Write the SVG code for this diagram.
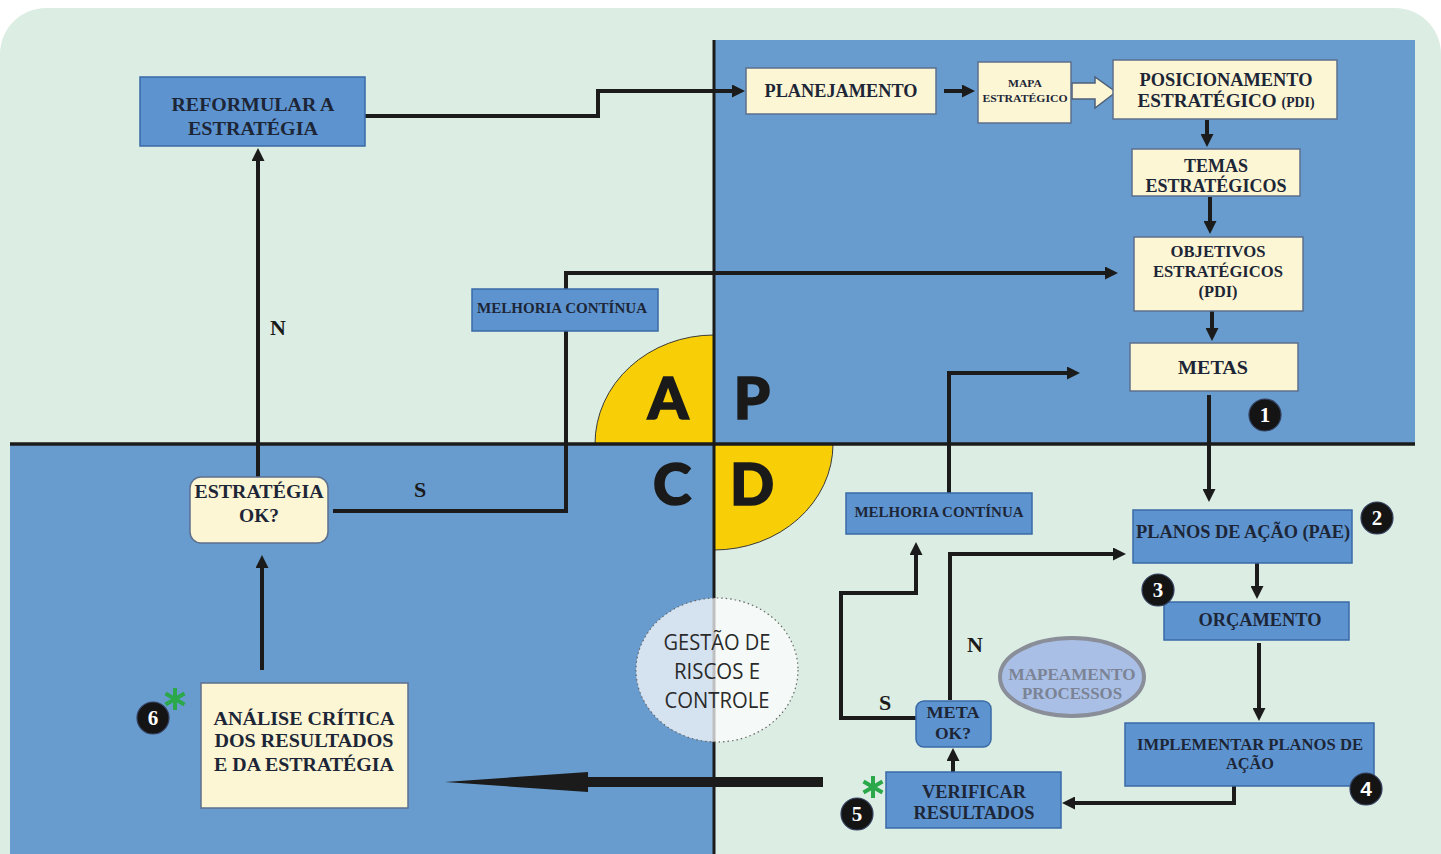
<svg xmlns="http://www.w3.org/2000/svg" width="1441" height="854" viewBox="0 0 1441 854">
<style>
.t{font-family:"Liberation Serif","Times New Roman",serif;font-weight:bold;fill:#1d2637;text-anchor:middle}
.lbl{font-family:"Liberation Serif","Times New Roman",serif;font-weight:bold;fill:#1a1a1a;text-anchor:middle;font-size:22px}
.big{font-family:Lato,"DejaVu Sans",sans-serif;font-weight:900;fill:#1a1a1a;stroke:#1a1a1a;stroke-width:1.6;text-anchor:middle;font-size:58px}
.bn{fill:#5d94d0;stroke:#3a6aa6;stroke-width:1.5}
.yn{fill:#fcf6d4;stroke:#5c6f8c;stroke-width:1.5}
.ca{fill:none;stroke:#1b1b1b;stroke-width:4;marker-end:url(#ah)}
.bd{fill:#141414;stroke:#33405e;stroke-width:1.2}
.bt{font-family:"Liberation Serif","Times New Roman",serif;font-weight:bold;fill:#ffffff;text-anchor:middle;font-size:21px}
.ast{stroke:#2aa84a;stroke-width:4;stroke-linecap:butt}
.g{font-family:"Open Sans","Liberation Sans",sans-serif;fill:#2a2a2a;text-anchor:middle;font-size:21px}
</style>
<defs>
<marker id="ah" viewBox="0 0 13 13" refX="5" refY="6.5" markerWidth="13" markerHeight="13" markerUnits="userSpaceOnUse" orient="auto">
<path d="M0,0 L13,6.5 L0,13 Z" fill="#1b1b1b"/>
</marker>
</defs>
<rect width="1441" height="854" fill="#ffffff"/>
<rect x="0" y="8" width="1441" height="900" rx="46" fill="#dcede4"/>
<g id="quadrants">
<rect x="714" y="40" width="701" height="404" fill="#699cce"/>
<rect x="10" y="444" width="704" height="410" fill="#699cce"/>
<path d="M714,444 L595,444 A119,109 0 0 1 714,335 Z" fill="#f8cf06" stroke="#3a3a3a" stroke-width="1"/>
<path d="M714,444 L833,444 A119,106 0 0 1 714,550 Z" fill="#f8cf06" stroke="#3a3a3a" stroke-width="1"/>
<path d="M10,444 H1415" stroke="#1b1b1b" stroke-width="3.5"/>
<path d="M714,40 V854" stroke="#1b1b1b" stroke-width="3"/>
<text class="big" x="668" y="419">A</text>
<text class="big" x="752" y="419">P</text>
<text class="big" x="672" y="505">C</text>
<text class="big" x="752" y="505">D</text>
</g>
<g id="gestao">
<ellipse cx="717" cy="670" rx="81" ry="72" fill="#ffffff" fill-opacity="0.72" stroke="#666" stroke-width="1.2" stroke-dasharray="1.5,3"/>
<text class="g" x="717" y="650" textLength="107" lengthAdjust="spacingAndGlyphs">GESTÃO DE</text>
<text class="g" x="717" y="679" textLength="86" lengthAdjust="spacingAndGlyphs">RISCOS E</text>
<text class="g" x="717" y="708" textLength="105" lengthAdjust="spacingAndGlyphs">CONTROLE</text>
</g>
<g id="connectors">
<path class="ca" d="M365,116 H598 V91 H737"/>
<path class="ca" d="M944,91 H967"/>
<polygon points="1072,83 1095,83 1095,77 1116,92 1095,108 1095,99 1072,99" fill="#fcf6d4" stroke="#4e5f7a" stroke-width="1.5"/>
<path class="ca" d="M1207,120 V139"/>
<path class="ca" d="M1210,197 V226"/>
<path class="ca" d="M1212,311 V333"/>
<path class="ca" d="M1209,395 V494"/>
<path class="ca" d="M1257,563 V591"/>
<path class="ca" d="M1259,643 V713"/>
<path class="ca" d="M1234,786 V803 H1070"/>
<path class="ca" d="M953,772 V756"/>
<path class="ca" d="M950,700 V554 H1118"/>
<path class="ca" d="M916,718 H841 V593 H916 V550"/>
<path class="ca" d="M949,493 V373 H1072"/>
<polygon points="823,777 588,777 588,772 445,782 588,792 588,787 823,787" fill="#1b1b1b"/>
<path class="ca" d="M262,670 V563"/>
<path class="ca" d="M258,477 V156"/>
<path class="ca" d="M333,511 H566 V273 H1110"/>
</g>
<g id="labels">
<text class="lbl" x="278" y="335">N</text>
<text class="lbl" x="420" y="497">S</text>
<text class="lbl" x="975" y="652">N</text>
<text class="lbl" x="885" y="710">S</text>
</g>
<g id="n-reformular">
<rect class="bn" x="140" y="77" width="225" height="69"/>
<text class="t" x="253" y="111" font-size="19" textLength="163" lengthAdjust="spacingAndGlyphs">REFORMULAR A</text>
<text class="t" x="253" y="135" font-size="19" textLength="130" lengthAdjust="spacingAndGlyphs">ESTRATÉGIA</text>
</g>
<g id="n-planejamento">
<rect class="yn" x="746" y="68" width="190" height="46"/>
<text class="t" x="841" y="97" font-size="18" textLength="153" lengthAdjust="spacingAndGlyphs">PLANEJAMENTO</text>
</g>
<g id="n-mapa">
<rect class="yn" x="978" y="62" width="93" height="61"/>
<text class="t" x="1025" y="87" font-size="10.5" textLength="34" lengthAdjust="spacingAndGlyphs">MAPA</text>
<text class="t" x="1025" y="102" font-size="10.5" textLength="85" lengthAdjust="spacingAndGlyphs">ESTRATÉGICO</text>
</g>
<g id="n-posicionamento">
<rect class="yn" x="1113" y="60" width="224" height="59"/>
<text class="t" x="1226" y="86" font-size="19.5" textLength="173" lengthAdjust="spacingAndGlyphs">POSICIONAMENTO</text>
<text class="t" x="1226" y="107" font-size="19.5" textLength="177" lengthAdjust="spacingAndGlyphs">ESTRATÉGICO <tspan font-size="14">(PDI)</tspan></text>
</g>
<g id="n-temas">
<rect class="yn" x="1132" y="149" width="168" height="47"/>
<text class="t" x="1216" y="172" font-size="19" textLength="64" lengthAdjust="spacingAndGlyphs">TEMAS</text>
<text class="t" x="1216" y="192" font-size="19" textLength="141" lengthAdjust="spacingAndGlyphs">ESTRATÉGICOS</text>
</g>
<g id="n-objetivos">
<rect class="yn" x="1134" y="237" width="169" height="74"/>
<text class="t" x="1218" y="257" font-size="16" textLength="95" lengthAdjust="spacingAndGlyphs">OBJETIVOS</text>
<text class="t" x="1218" y="277" font-size="16" textLength="130" lengthAdjust="spacingAndGlyphs">ESTRATÉGICOS</text>
<text class="t" x="1218" y="297" font-size="16" textLength="39" lengthAdjust="spacingAndGlyphs">(PDI)</text>
</g>
<g id="n-metas">
<rect class="yn" x="1130" y="343" width="168" height="48"/>
<text class="t" x="1213" y="374" font-size="19" textLength="70" lengthAdjust="spacingAndGlyphs">METAS</text>
</g>
<g id="n-planos">
<rect class="bn" x="1133" y="510" width="219" height="53"/>
<text class="t" x="1243" y="538" font-size="18" textLength="214" lengthAdjust="spacingAndGlyphs">PLANOS DE AÇÃO (PAE)</text>
</g>
<g id="n-orcamento">
<rect class="bn" x="1164" y="602" width="185" height="38"/>
<text class="t" x="1260" y="626" font-size="18" textLength="123" lengthAdjust="spacingAndGlyphs">ORÇAMENTO</text>
</g>
<g id="n-implementar">
<rect class="bn" x="1125" y="723" width="249" height="63"/>
<text class="t" x="1250" y="750" font-size="16" textLength="226" lengthAdjust="spacingAndGlyphs">IMPLEMENTAR PLANOS DE</text>
<text class="t" x="1250" y="769" font-size="16" textLength="48" lengthAdjust="spacingAndGlyphs">AÇÃO</text>
</g>
<g id="n-verificar">
<rect class="bn" x="886" y="772" width="175" height="56"/>
<text class="t" x="974" y="798" font-size="18" textLength="104" lengthAdjust="spacingAndGlyphs">VERIFICAR</text>
<text class="t" x="974" y="819" font-size="18" textLength="121" lengthAdjust="spacingAndGlyphs">RESULTADOS</text>
</g>
<g id="n-meta-ok">
<rect class="bn" x="916" y="701" width="75" height="46" rx="8"/>
<text class="t" x="953" y="718" font-size="17" textLength="53" lengthAdjust="spacingAndGlyphs">META</text>
<text class="t" x="953" y="739" font-size="17" textLength="36" lengthAdjust="spacingAndGlyphs">OK?</text>
</g>
<g id="n-melhoria-2">
<rect class="bn" x="846" y="493" width="186" height="41"/>
<text class="t" x="939" y="517" font-size="14" textLength="169" lengthAdjust="spacingAndGlyphs">MELHORIA CONTÍNUA</text>
</g>
<g id="n-melhoria-1">
<rect class="bn" x="472" y="289" width="186" height="42"/>
<text class="t" x="562" y="313" font-size="14" textLength="170" lengthAdjust="spacingAndGlyphs">MELHORIA CONTÍNUA</text>
</g>
<g id="n-mapeamento">
<ellipse cx="1072" cy="677" rx="72" ry="39" fill="#a9bfe6" stroke="#8a8e98" stroke-width="4"/>
<text class="t" x="1072" y="680" font-size="16" style="fill:#7b8394" textLength="127" lengthAdjust="spacingAndGlyphs">MAPEAMENTO</text>
<text class="t" x="1072" y="699" font-size="16" style="fill:#7b8394" textLength="100" lengthAdjust="spacingAndGlyphs">PROCESSOS</text>
</g>
<g id="n-estrategia-ok">
<rect class="yn" x="190" y="477" width="138" height="66" rx="11"/>
<text class="t" x="259" y="498" font-size="18" textLength="129" lengthAdjust="spacingAndGlyphs">ESTRATÉGIA</text>
<text class="t" x="259" y="522" font-size="18" textLength="40" lengthAdjust="spacingAndGlyphs">OK?</text>
</g>
<g id="n-analise">
<rect class="yn" x="201" y="683" width="207" height="125"/>
<text class="t" x="304" y="725" font-size="19.5" textLength="181" lengthAdjust="spacingAndGlyphs">ANÁLISE CRÍTICA</text>
<text class="t" x="304" y="747" font-size="19.5" textLength="179" lengthAdjust="spacingAndGlyphs">DOS RESULTADOS</text>
<text class="t" x="304" y="771" font-size="19.5" textLength="180" lengthAdjust="spacingAndGlyphs">E DA ESTRATÉGIA</text>
</g>
<g id="badges">
<circle class="bd" cx="1265" cy="415" r="16"/><text class="bt" x="1265" y="422">1</text>
<circle class="bd" cx="1377" cy="518" r="16"/><text class="bt" x="1377" y="525">2</text>
<circle class="bd" cx="1158" cy="590" r="16"/><text class="bt" x="1158" y="597">3</text>
<circle class="bd" cx="1366" cy="789" r="16"/><text class="bt" x="1366" y="796" style="font-family:'Liberation Sans',Arial,sans-serif">4</text>
<circle class="bd" cx="857" cy="814" r="16"/><text class="bt" x="857" y="821">5</text>
<circle class="bd" cx="153" cy="718" r="16"/><text class="bt" x="153" y="725">6</text>
</g>
<g id="asterisks">
<g class="ast" transform="translate(175,699)"><path d="M0,-11 V11 M-9.5,-5.5 L9.5,5.5 M-9.5,5.5 L9.5,-5.5"/></g>
<g class="ast" transform="translate(873,787)"><path d="M0,-11 V11 M-9.5,-5.5 L9.5,5.5 M-9.5,5.5 L9.5,-5.5"/></g>
</g>
</svg>
